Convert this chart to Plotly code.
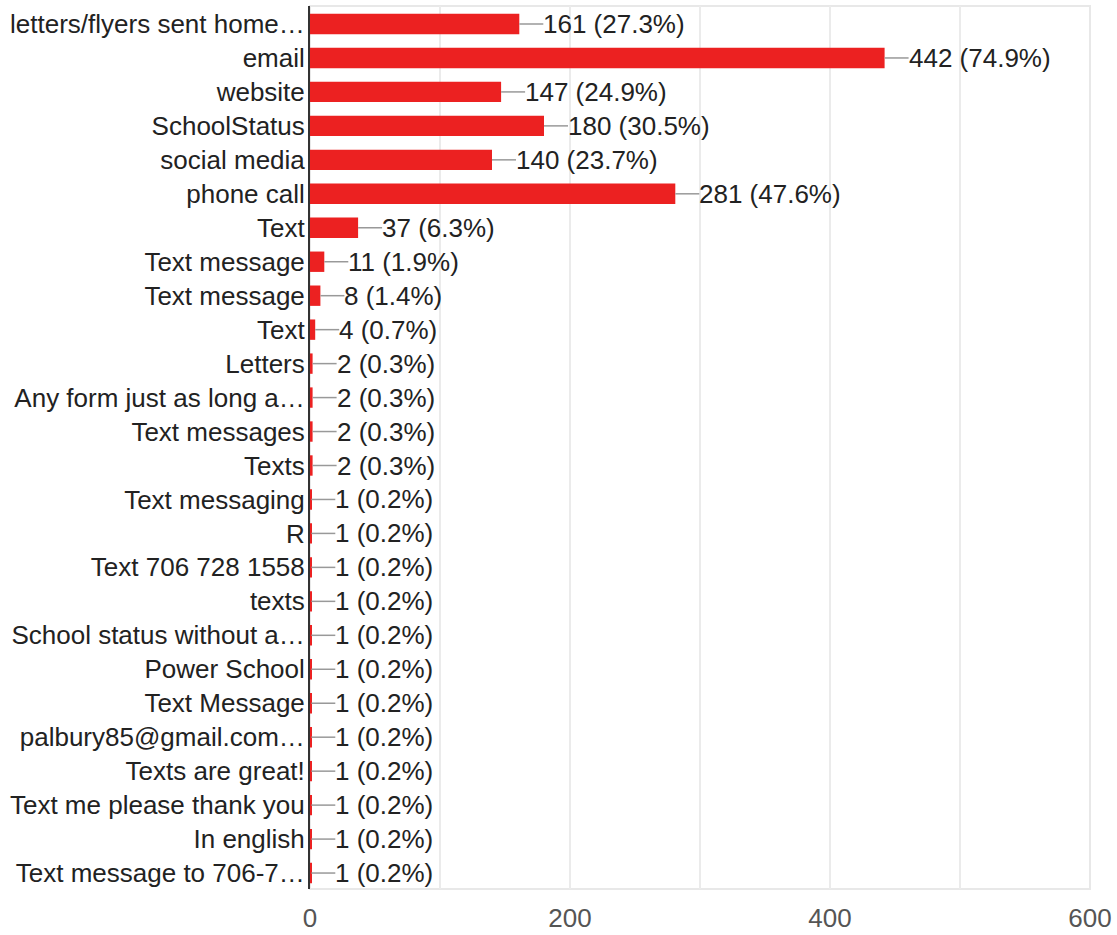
import plotly.graph_objects as go

categories = [
    "letters/flyers sent home…", "email", "website", "SchoolStatus", "social media",
    "phone call", "Text", "Text message", "Text message", "Text", "Letters",
    "Any form just as long a…", "Text messages", "Texts", "Text messaging", "R",
    "Text 706 728 1558", "texts", "School status without a…", "Power School",
    "Text Message", "palbury85@gmail.com…", "Texts are great!",
    "Text me please thank you", "In english", "Text message to 706-7…",
]
counts = [161, 442, 147, 180, 140, 281, 37, 11, 8, 4, 2, 2, 2, 2, 1, 1, 1, 1, 1, 1, 1, 1, 1, 1, 1, 1]
percents = [27.3, 74.9, 24.9, 30.5, 23.7, 47.6, 6.3, 1.9, 1.4, 0.7, 0.3, 0.3, 0.3, 0.3,
            0.2, 0.2, 0.2, 0.2, 0.2, 0.2, 0.2, 0.2, 0.2, 0.2, 0.2, 0.2]
x_ticks = [0, 200, 400, 600]

BAR = "#ec2121"
FONT = "Liberation Sans, Arial, sans-serif"
FS = 26

pos = list(range(len(categories)))
fig = go.Figure(go.Bar(
    x=counts, y=pos, orientation="h", marker=dict(color=BAR, line=dict(width=0)),
    width=0.6, hoverinfo="skip",
))

shapes = [dict(type="rect", xref="paper", yref="paper", x0=0, x1=1, y0=0, y1=1,
               line=dict(color="#e8e8e8", width=2), layer="below")]
annotations = []
for i, (c, p) in enumerate(zip(counts, percents)):
    shapes.append(dict(type="line", xref="x", yref="y", xsizemode="pixel", xanchor=c,
                       x0=0, x1=24, y0=i, y1=i, line=dict(color="#999999", width=1.5),
                       layer="above"))
    annotations.append(dict(x=c, y=i, xref="x", yref="y", xshift=22, xanchor="left",
                            yanchor="middle", showarrow=False,
                            text=f"{c} ({p}%)", font=dict(size=FS, color="#222222", family=FONT)))

fig.update_layout(
    width=1117, height=935, plot_bgcolor="white", paper_bgcolor="white",
    margin=dict(l=310, r=27, t=6, b=46, autoexpand=False), showlegend=False,
    font=dict(family=FONT, size=FS, color="#222222"),
    shapes=shapes, annotations=annotations,
    xaxis=dict(range=[0, 600], tickvals=x_ticks, showgrid=True, gridcolor="#ebebeb", gridwidth=1.5,
               minor=dict(dtick=100, showgrid=True, gridcolor="#ebebeb", gridwidth=1.5),
               zeroline=False, tickfont=dict(size=FS, color="#555555"), ticklabelstandoff=11,
               fixedrange=True, automargin=False),
    yaxis=dict(range=[25.47, -0.53], tickvals=pos, ticktext=categories, showgrid=False,
               zeroline=False, showline=True, linecolor="#333333", linewidth=2,
               tickfont=dict(size=FS, color="#222222"), ticklabelstandoff=-2, automargin=False,
               fixedrange=True),
    bargap=0.4,
)

fig.write_html("out.html", config={"displayModeBar": False},
               post_script="document.body.style.margin='0';document.body.style.padding='0';")
